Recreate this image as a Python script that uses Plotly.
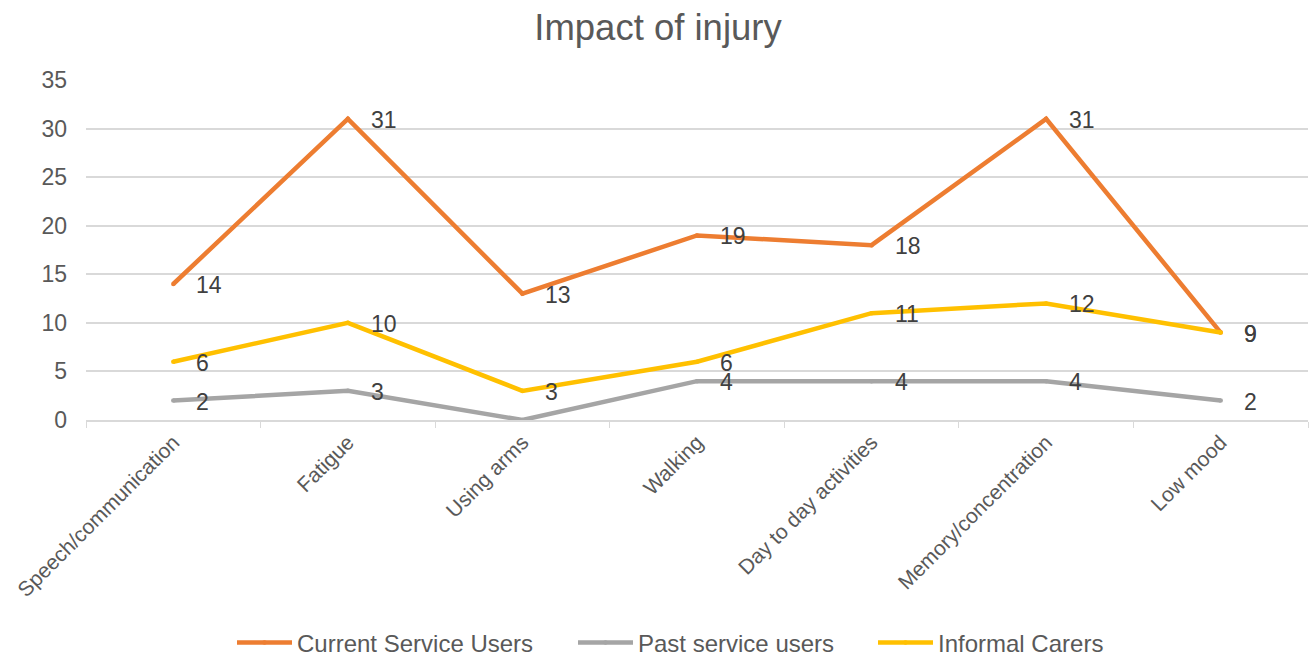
import plotly.graph_objects as go

categories = ["Speech/communication", "Fatigue", "Using arms", "Walking",
              "Day to day activities", "Memory/concentration", "Low mood"]
current_service_users = [14, 31, 13, 19, 18, 31, 9]
past_service_users = [2, 3, 0, 4, 4, 4, 2]
informal_carers = [6, 10, 3, 6, 11, 12, 9]

series = [
    ("Current Service Users", current_service_users, "#ED7D31"),
    ("Past service users", past_service_users, "#A5A5A5"),
    ("Informal Carers", informal_carers, "#FFC000"),
]

FONT = "Liberation Sans, Arial, sans-serif"
LINE_W = 4.5

# one legend per series so the entries can be spaced along the bottom
legend_ids = ["legend", "legend2", "legend3"]
legend_left_px = [232, 573, 873]

fig = go.Figure()
annotations = []
for (name, values, color), lid in zip(series, legend_ids):
    # small round markers at the vertices give the line rounded ends
    fig.add_trace(go.Scatter(
        x=categories, y=values, name=name, mode="lines+markers",
        line=dict(color=color, width=LINE_W),
        marker=dict(color=color, size=LINE_W, line=dict(width=0)),
        legend=lid,
    ))
    for cat, v in zip(categories, values):
        if v == 0:
            continue
        annotations.append(dict(
            x=cat, y=v, text=str(v), showarrow=False,
            xanchor="left", yanchor="middle", xshift=21, yshift=-1,
            font=dict(family=FONT, size=23, color="#404040"),
        ))

legend_style = dict(
    orientation="h", xref="container", yref="container",
    xanchor="left", y=1 - 643 / 657, yanchor="middle",
    font=dict(family=FONT, size=24, color="#595959"),
    itemwidth=55, bgcolor="rgba(0,0,0,0)",
)

fig.update_layout(
    width=1316, height=657,
    margin=dict(l=86, r=8, t=80, b=237, autoexpand=False),
    plot_bgcolor="white", paper_bgcolor="white",
    title=dict(text="Impact of injury", x=0.5, xanchor="center",
               y=1 - 27 / 657, yanchor="middle", yref="container",
               font=dict(family=FONT, size=36.5, color="#595959")),
    font=dict(family=FONT, color="#595959"),
    xaxis=dict(
        type="category", range=[-0.5, 6.5], tickangle=-45, automargin=False,
        showgrid=False, showline=True, linecolor="#D9D9D9", linewidth=1.5,
        ticks="outside", tickson="boundaries", ticklen=6, tickcolor="#D9D9D9",
        tickfont=dict(family=FONT, size=21, color="#595959"),
    ),
    yaxis=dict(
        range=[0, 35], dtick=5, showgrid=True, gridcolor="#D9D9D9",
        gridwidth=1.5, zeroline=False, showline=False, automargin=False,
        tickfont=dict(family=FONT, size=23, color="#595959"),
        ticklabelstandoff=18,
    ),
    annotations=annotations,
    showlegend=True,
)
for lid, left in zip(legend_ids, legend_left_px):
    fig.update_layout({lid: dict(legend_style, x=left / 1316)})

fig.write_html("out.html")
